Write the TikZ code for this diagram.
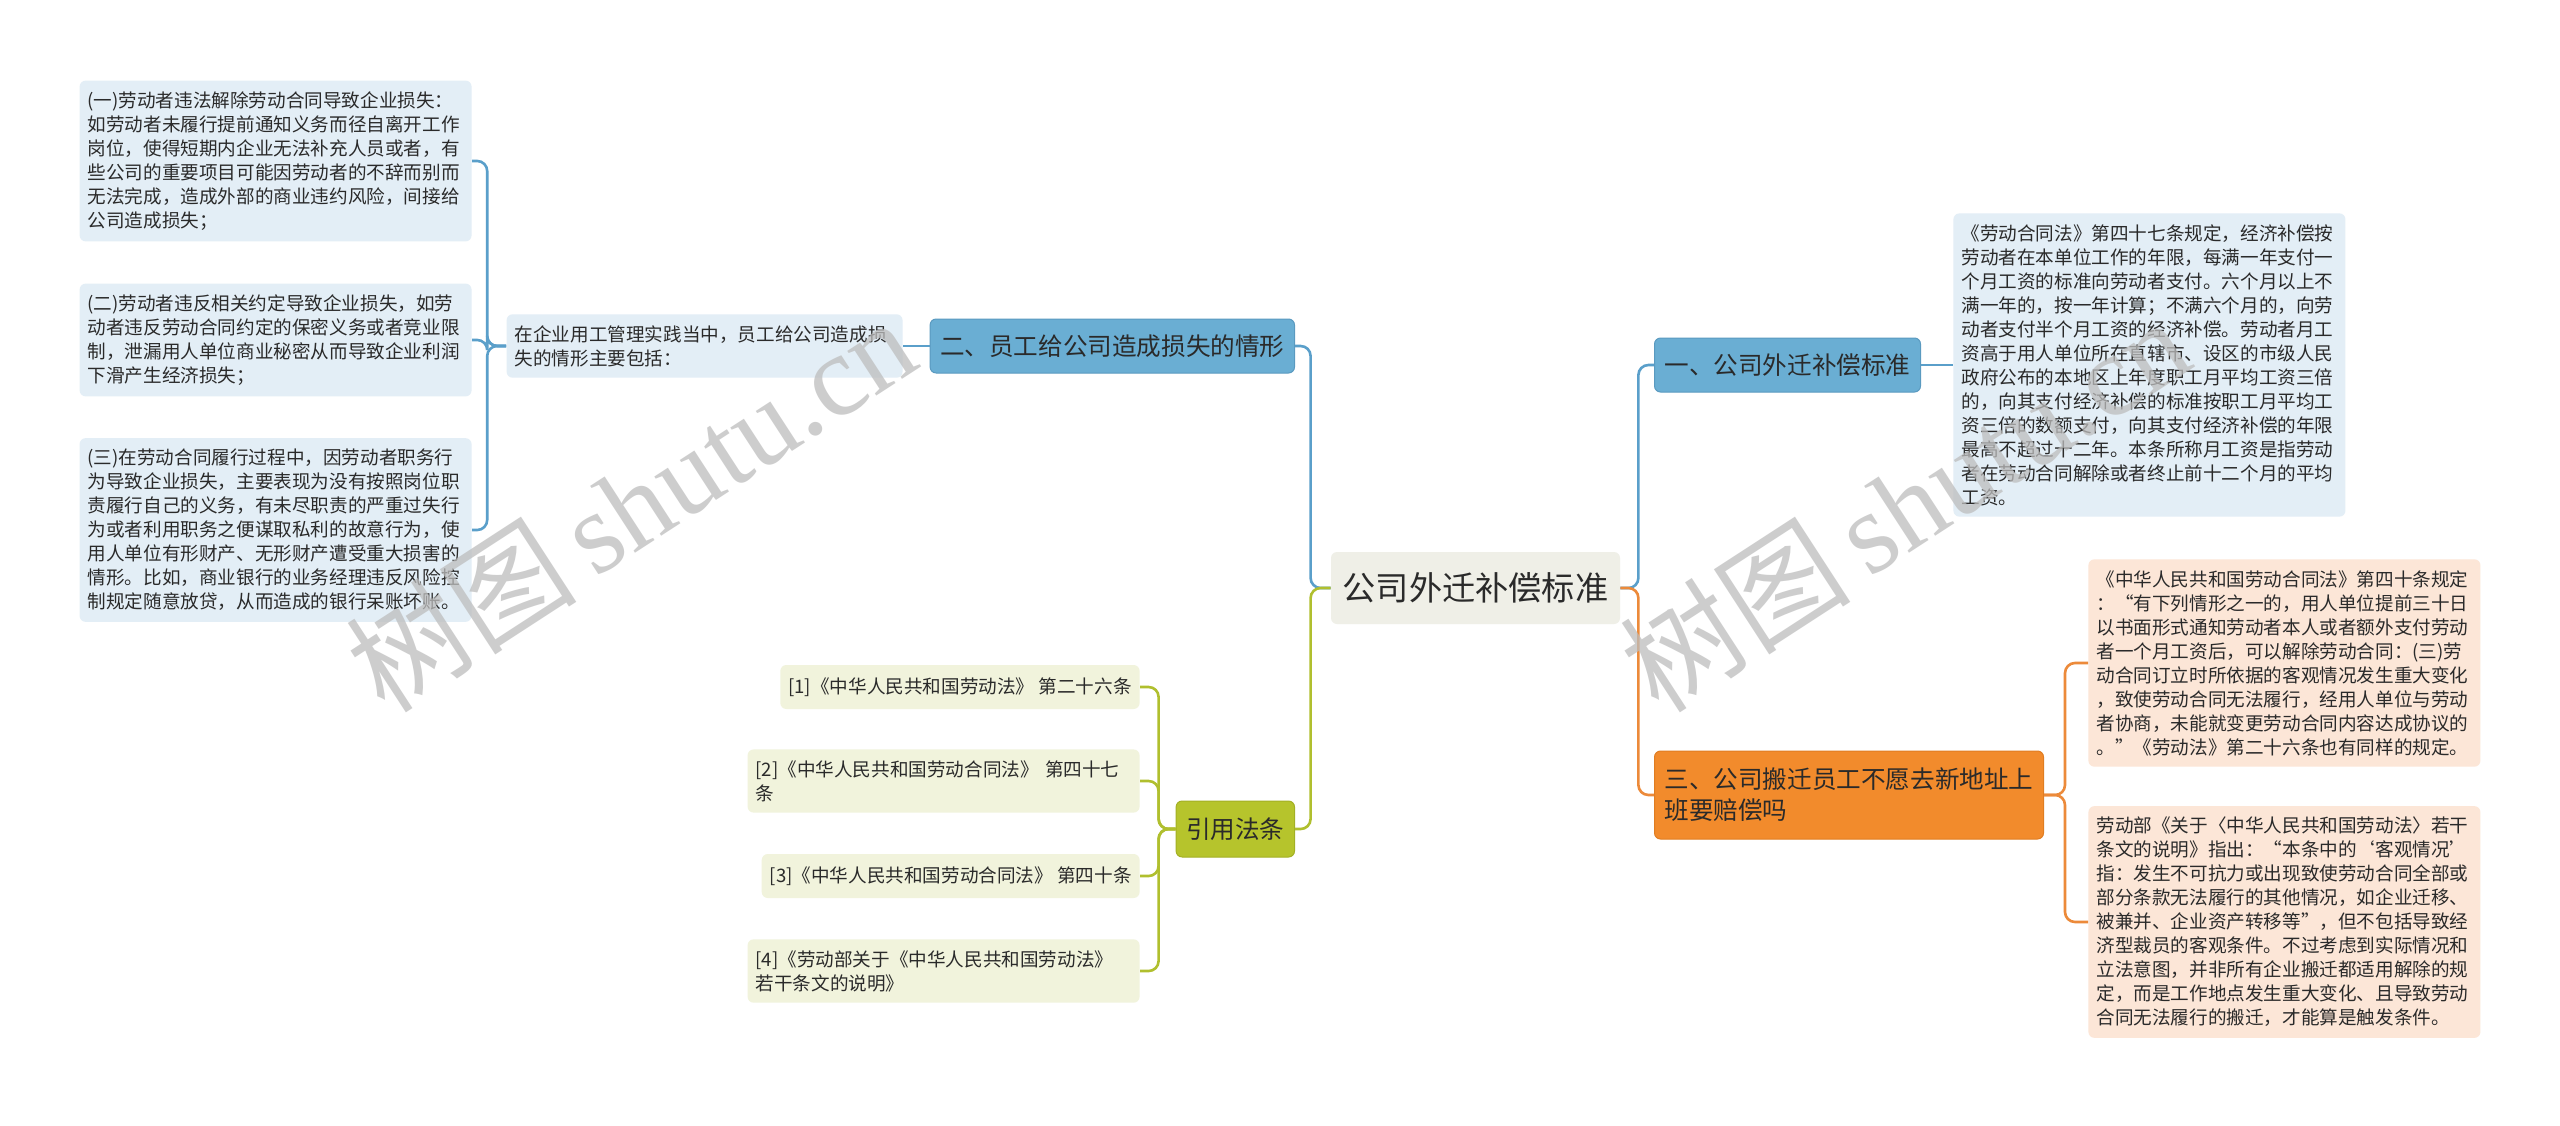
\documentclass[tikz,border=0pt]{standalone}
\usepackage{fontspec}
\setmainfont{Noto Sans CJK SC}
\newfontfamily\wmfont{Liberation Serif}
\definecolor{rootfill}{HTML}{EFEFE7}
\definecolor{bluefill}{HTML}{6AAED3}
\definecolor{blueline}{HTML}{5A9AC0}
\definecolor{linkblue}{HTML}{5A9FCA}
\definecolor{bluenote}{HTML}{E3EEF6}
\definecolor{orangefill}{HTML}{F28B2C}
\definecolor{orangeline}{HTML}{E07D22}
\definecolor{linkorange}{HTML}{EC8A3A}
\definecolor{peachnote}{HTML}{FCE6D7}
\definecolor{olivefill}{HTML}{B6C42C}
\definecolor{oliveline}{HTML}{A3B024}
\definecolor{linkolive}{HTML}{B0BF2E}
\definecolor{olivenote}{HTML}{F1F3DC}
\definecolor{textdark}{HTML}{2A2A2A}
\definecolor{wmgray}{HTML}{BDBDBD}

\begin{document}
\begin{tikzpicture}[x=0.5pt, y=-0.5pt,
  box/.style={rounded corners=3pt, inner xsep=5pt, text=textdark},
  rootbox/.style={box, fill=rootfill, font=\fontsize{16.6}{20}\selectfont,
    minimum width=144.5pt, minimum height=36pt},
  topicbox/.style={box, draw, line width=0.5pt, font=\fontsize{12.3}{15.5}\selectfont,
    minimum height=27pt, align=left},
  notebox/.style={box, inner xsep=4pt, inner ysep=5.5pt,
    font=\fontsize{9.3}{12}\selectfont, align=left},
  longnote/.style={notebox, text width=188pt},
  link/.style={line width=1.3pt, rounded corners=5pt},
  wmark/.style={text=wmgray, opacity=0.75, font=\fontsize{58}{62}\selectfont},
]
  \fill[white] (0,0) rectangle (2560,1125);
  \useasboundingbox (0,0) rectangle (2560,1125);
  % 中心主题
  \node[rootbox] (root) at (1475.5,588) {公司外迁补偿标准};
  % 右侧分支
  \node[topicbox, fill=bluefill, draw=blueline, anchor=west] (r1) at (1654,365) {一、公司外迁补偿标准};
  \node[longnote, fill=bluenote, anchor=west] (r1c) at (1953,365) {《劳动合同法》第四十七条规定，经济补偿按\\劳动者在本单位工作的年限，每满一年支付一\\个月工资的标准向劳动者支付。六个月以上不\\满一年的，按一年计算；不满六个月的，向劳\\动者支付半个月工资的经济补偿。劳动者月工\\资高于用人单位所在直辖市、设区的市级人民\\政府公布的本地区上年度职工月平均工资三倍\\的，向其支付经济补偿的标准按职工月平均工\\资三倍的数额支付，向其支付经济补偿的年限\\最高不超过十二年。本条所称月工资是指劳动\\者在劳动合同解除或者终止前十二个月的平均\\工资。};
  \node[topicbox, fill=orangefill, draw=orangeline, anchor=west, minimum height=44pt] (r2) at (1654,795) {三、公司搬迁员工不愿去新地址上\\班要赔偿吗};
  \node[longnote, fill=peachnote, anchor=west] (r2c1) at (2088,663) {《中华人民共和国劳动合同法》第四十条规定\\：“有下列情形之一的，用人单位提前三十日\\以书面形式通知劳动者本人或者额外支付劳动\\者一个月工资后，可以解除劳动合同：(三)劳\\动合同订立时所依据的客观情况发生重大变化\\，致使劳动合同无法履行，经用人单位与劳动\\者协商，未能就变更劳动合同内容达成协议的\\。”《劳动法》第二十六条也有同样的规定。};
  \node[longnote, fill=peachnote, anchor=west] (r2c2) at (2088,922) {劳动部《关于〈中华人民共和国劳动法〉若干\\条文的说明》指出：“本条中的‘客观情况’\\指：发生不可抗力或出现致使劳动合同全部或\\部分条款无法履行的其他情况，如企业迁移、\\被兼并、企业资产转移等”，但不包括导致经\\济型裁员的客观条件。不过考虑到实际情况和\\立法意图，并非所有企业搬迁都适用解除的规\\定，而是工作地点发生重大变化、且导致劳动\\合同无法履行的搬迁，才能算是触发条件。};
  % 左侧分支
  \node[topicbox, fill=bluefill, draw=blueline, anchor=east] (l1) at (1295,346) {二、员工给公司造成损失的情形};
  \node[longnote, fill=bluenote, anchor=east, text width=190pt] (l1c) at (903,346) {在企业用工管理实践当中，员工给公司造成损\\失的情形主要包括：};
  \node[longnote, fill=bluenote, anchor=east] (gc1) at (472,161) {(一)劳动者违法解除劳动合同导致企业损失：\\如劳动者未履行提前通知义务而径自离开工作\\岗位，使得短期内企业无法补充人员或者，有\\些公司的重要项目可能因劳动者的不辞而别而\\无法完成，造成外部的商业违约风险，间接给\\公司造成损失；};
  \node[longnote, fill=bluenote, anchor=east] (gc2) at (472,340) {(二)劳动者违反相关约定导致企业损失，如劳\\动者违反劳动合同约定的保密义务或者竞业限\\制，泄漏用人单位商业秘密从而导致企业利润\\下滑产生经济损失；};
  \node[longnote, fill=bluenote, anchor=east] (gc3) at (472,530) {(三)在劳动合同履行过程中，因劳动者职务行\\为导致企业损失，主要表现为没有按照岗位职\\责履行自己的义务，有未尽职责的严重过失行\\为或者利用职务之便谋取私利的故意行为，使\\用人单位有形财产、无形财产遭受重大损害的\\情形。比如，商业银行的业务经理违反风险控\\制规定随意放贷，从而造成的银行呆账坏账。};
  \node[topicbox, fill=olivefill, draw=oliveline, anchor=east, minimum height=28pt] (l2) at (1295,829) {引用法条};
  \node[notebox, fill=olivenote, anchor=east, minimum height=22pt] (ref1) at (1140,687) {[1]《中华人民共和国劳动法》 第二十六条};
  \node[longnote, fill=olivenote, anchor=east] (ref2) at (1140,781) {[2]《中华人民共和国劳动合同法》 第四十七\\条};
  \node[notebox, fill=olivenote, anchor=east, minimum height=22pt] (ref3) at (1140,876) {[3]《中华人民共和国劳动合同法》 第四十条};
  \node[longnote, fill=olivenote, anchor=east] (ref4) at (1140,971) {[4]《劳动部关于《中华人民共和国劳动法》\\若干条文的说明》};
  % 连线
  \draw[link, linkblue] (root.west) -- ++(-20,0) |- (l1.east);
  \draw[link, linkolive] (root.west) -- ++(-20,0) |- (l2.east);
  \draw[link, linkblue] (root.east) -- ++(18,0) |- (r1.west);
  \draw[link, linkorange] (root.east) -- ++(18,0) |- (r2.west);
  \draw[link, linkblue] (r1.east) -- (r1c.west);
  \draw[link, linkblue] (l1.west) -- (l1c.east);
  \foreach \n in {gc1,gc2,gc3}
    \draw[link, linkblue] (l1c.west) -- ++(-19,0) |- (\n.east);
  \foreach \n in {ref1,ref2,ref3,ref4}
    \draw[link, linkolive] (l2.west) -- ++(-17,0) |- (\n.east);
  \foreach \n in {r2c1,r2c2}
    \draw[link, linkorange] (r2.east) -- ++(21,0) |- (\n.west);
  % 水印
  \node[wmark, rotate=33] (wm1) at (630,504) {树图\,{\wmfont shutu.cn}};
  \node[wmark, rotate=33] (wm2) at (1904,504) {树图\,{\wmfont shutu.cn}};
\end{tikzpicture}
\end{document}
